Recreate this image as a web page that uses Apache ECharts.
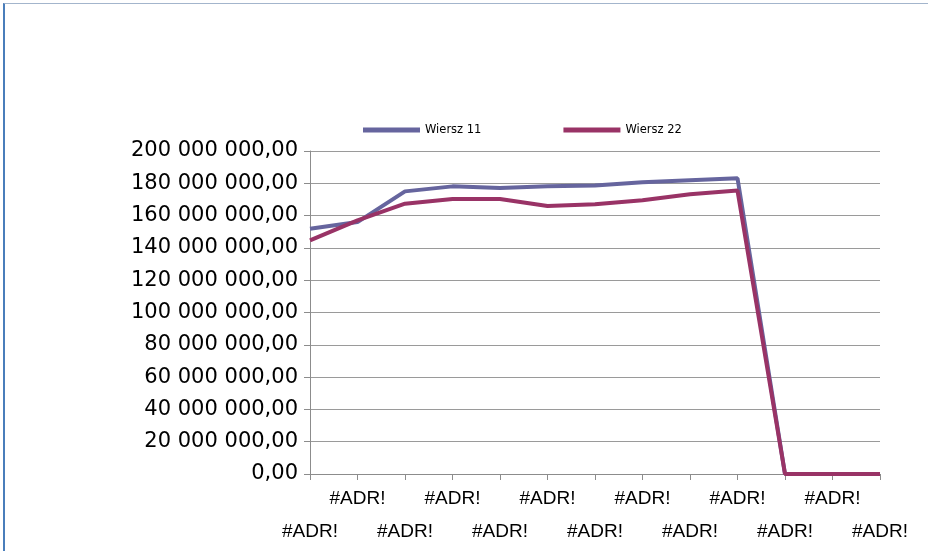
<!DOCTYPE html>
<html>
<head>
<meta charset="utf-8">
<script src="https://cdn.jsdelivr.net/npm/echarts@6/dist/echarts.min.js"></script>
<style>
  html, body { margin: 0; padding: 0; background: #fff; }
  #frame { position: absolute; left: 3px; top: 3px; width: 925px; height: 548px;
           border-top: 1px solid #a3b5cc; border-left: 2px solid #4a7ebb; }
  #chart { position: absolute; left: 0; top: 0; width: 928px; height: 551px; }
</style>
</head>
<body>
<div id="frame"></div>
<div id="chart"></div>
<script>
const categories = ['#ADR!','#ADR!','#ADR!','#ADR!','#ADR!','#ADR!','#ADR!','#ADR!','#ADR!','#ADR!','#ADR!','#ADR!','#ADR!'];
const seriesNames = ['Wiersz 11', 'Wiersz 22'];
const wiersz11 = [151900000, 156000000, 175000000, 178100000, 177100000, 178100000, 178600000, 180600000, 181900000, 183100000, 0, 0, 0];
const wiersz22 = [144700000, 157100000, 167400000, 170300000, 170300000, 166000000, 167000000, 169500000, 173200000, 175500000, 0, 0, 0];
const yMin = 0, yMax = 200000000, yStep = 20000000;

function fmt(v) {
  const s = Math.round(v).toString().replace(/\B(?=(\d{3})+(?!\d))/g, ' ');
  return s + ',00';
}

const chart = echarts.init(document.getElementById('chart'), null, { renderer: 'canvas' });
chart.setOption({
  backgroundColor: 'transparent',
  animation: false,
  legend: {
    data: seriesNames,
    left: 358,
    top: 119,
    icon: 'rect',
    itemWidth: 57,
    itemHeight: 5,
    itemGap: 82,
    textStyle: { fontFamily: 'DejaVu Sans', fontSize: 11.5, color: '#000' }
  },
  grid: { left: 310, right: 48, top: 151, bottom: 77, containLabel: false },
  xAxis: {
    type: 'category',
    data: categories,
    boundaryGap: false,
    axisLine: { lineStyle: { color: '#8c8c8c', width: 1 } },
    axisTick: { show: true, length: 6, inside: false, interval: 0, lineStyle: { color: '#8c8c8c' } },
    axisLabel: {
      interval: 0,
      margin: 8,
      color: '#000',
      fontFamily: 'Liberation Sans',
      fontSize: 19,
      lineHeight: 33,
      formatter: function (val, idx) { return idx % 2 === 0 ? '\n' + val : val; }
    },
    splitLine: { show: false }
  },
  yAxis: {
    type: 'value',
    min: yMin,
    max: yMax,
    interval: yStep,
    axisLine: { show: true, lineStyle: { color: '#8c8c8c', width: 1 } },
    axisTick: { show: true, length: 6, inside: false, lineStyle: { color: '#8c8c8c' } },
    axisLabel: { margin: 12, color: '#000', fontFamily: 'DejaVu Sans', fontSize: 21, formatter: fmt },
    splitLine: { show: true, lineStyle: { color: '#9a9a9a', width: 1 } }
  },
  series: [
    { name: seriesNames[0], type: 'line', data: wiersz11, symbol: 'none', smooth: false,
      itemStyle: { color: '#66659e' }, lineStyle: { color: '#66659e', width: 4 } },
    { name: seriesNames[1], type: 'line', data: wiersz22, symbol: 'none', smooth: false,
      itemStyle: { color: '#993366' }, lineStyle: { color: '#993366', width: 4 } }
  ]
});
</script>
</body>
</html>
